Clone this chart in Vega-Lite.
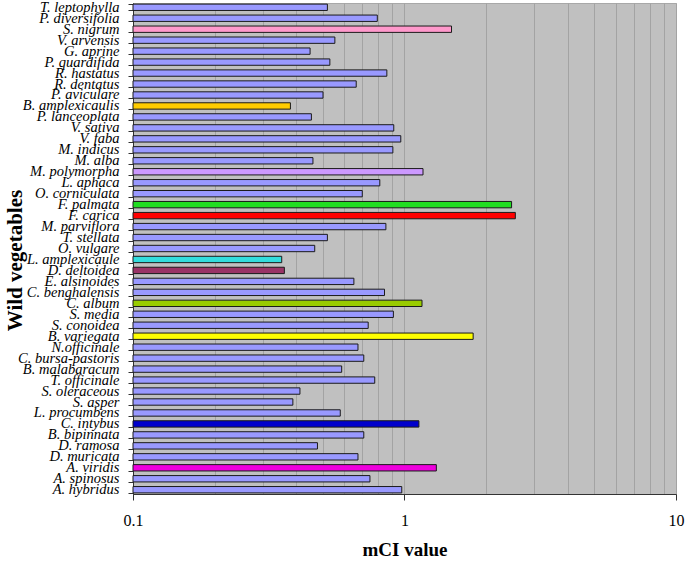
{
  "$schema": "https://vega.github.io/schema/vega-lite/v6.json",
  "width": 543,
  "height": 491,
  "autosize": "none",
  "padding": {"left": 133, "top": 3, "right": 9, "bottom": 71},
  "background": "white",
  "config": {
    "view": {"fill": "#c0c0c0", "stroke": "#a8a8a8"},
    "font": "Liberation Serif"
  },
  "data": {
    "values": [
      {"species": "T. leptophylla", "mci": 0.52},
      {"species": "P. diversifolia", "mci": 0.794},
      {"species": "S. nigrum", "mci": 1.49},
      {"species": "V. arvensis", "mci": 0.554},
      {"species": "G. aprine", "mci": 0.449},
      {"species": "P. quardifida", "mci": 0.531},
      {"species": "R. hastatus", "mci": 0.861},
      {"species": "R. dentatus", "mci": 0.664},
      {"species": "P. aviculare", "mci": 0.501},
      {"species": "B. amplexicaulis", "mci": 0.38},
      {"species": "P. lanceoplata", "mci": 0.454},
      {"species": "V. sativa", "mci": 0.913},
      {"species": "V. faba", "mci": 0.969},
      {"species": "M. indicus", "mci": 0.906},
      {"species": "M. alba", "mci": 0.46},
      {"species": "M. polymorpha", "mci": 1.17},
      {"species": "L. aphaca", "mci": 0.811},
      {"species": "O. corniculata", "mci": 0.699},
      {"species": "F. palmata", "mci": 2.48},
      {"species": "F. carica", "mci": 2.56},
      {"species": "M. parviflora", "mci": 0.854},
      {"species": "T. stellata", "mci": 0.52},
      {"species": "O. vulgare", "mci": 0.467},
      {"species": "L. amplexicaule", "mci": 0.353},
      {"species": "D. deltoidea", "mci": 0.361},
      {"species": "E. alsinoides", "mci": 0.651},
      {"species": "C. benghalensis", "mci": 0.844},
      {"species": "C. album", "mci": 1.16},
      {"species": "S. media", "mci": 0.91},
      {"species": "S. conoidea", "mci": 0.735},
      {"species": "B. variegata", "mci": 1.79},
      {"species": "N.officinale", "mci": 0.674},
      {"species": "C. bursa-pastoris", "mci": 0.708},
      {"species": "B. malabaracum", "mci": 0.587},
      {"species": "T. officinale", "mci": 0.777},
      {"species": "S. oleraceous", "mci": 0.412},
      {"species": "S. asper", "mci": 0.388},
      {"species": "L. procumbens", "mci": 0.58},
      {"species": "C. intybus", "mci": 1.13},
      {"species": "B. bipinnata", "mci": 0.708},
      {"species": "D. ramosa", "mci": 0.478},
      {"species": "D. muricata", "mci": 0.674},
      {"species": "A. viridis", "mci": 1.31},
      {"species": "A. spinosus", "mci": 0.746},
      {"species": "A. hybridus", "mci": 0.977}
    ]
  },
  "mark": {"type": "bar", "stroke": "#1a1a1a", "strokeWidth": 1},
  "encoding": {
    "y": {
      "field": "species",
      "type": "nominal",
      "sort": null,
      "scale": {"paddingInner": 0.42, "paddingOuter": 0.1},
      "axis": {
        "title": "Wild vegetables",
        "titleFont": "Liberation Serif",
        "titleFontSize": 21,
        "titleFontWeight": "bold",
        "titleColor": "black",
        "titleAngle": 270,
        "titleX": -118,
        "titleY": 257,
        "titleAlign": "center",
        "titleBaseline": "middle",
        "labelFont": "Liberation Serif",
        "labelFontStyle": "italic",
        "labelFontSize": 14.5,
        "labelColor": "black",
        "labelOverlap": false,
        "labelBound": false,
        "labelPadding": 9,
        "labelLimit": 300,
        "tickBand": "extent",
        "tickSize": 5,
        "tickColor": "#333333",
        "domainColor": "#333333",
        "grid": false
      }
    },
    "x": {
      "field": "mci",
      "type": "quantitative",
      "scale": {"type": "log", "domain": [0.1, 10], "nice": false},
      "axis": {
        "title": "mCI value",
        "titleFont": "Liberation Serif",
        "titleFontSize": 19,
        "titleFontWeight": "bold",
        "titleColor": "black",
        "titlePadding": 12,
        "values": [0.1, 0.2, 0.3, 0.4, 0.5, 0.6, 0.7, 0.8, 0.9, 1, 2, 3, 4, 5, 6, 7, 8, 9, 10],
        "labelExpr": "datum.value < 0.15 ? '0.1' : (datum.value == 1 ? '1' : (datum.value == 10 ? '10' : ''))",
        "labelFont": "Liberation Serif",
        "labelFontSize": 16,
        "labelColor": "black",
        "labelPadding": 12,
        "labelFlush": false,
        "labelOverlap": false,
        "tickSize": 6,
        "tickColor": {"condition": {"test": "datum.value < 0.15 || datum.value == 1 || datum.value == 10", "value": "#333333"}, "value": "transparent"},
        "grid": true,
        "gridColor": "#a3a3a3",
        "gridWidth": 1,
        "domainColor": "#333333"
      }
    },
    "x2": {"datum": 0.1},
    "color": {
      "field": "species",
      "type": "nominal",
      "legend": null,
      "scale": {
        "domain": ["T. leptophylla", "P. diversifolia", "S. nigrum", "V. arvensis", "G. aprine", "P. quardifida", "R. hastatus", "R. dentatus", "P. aviculare", "B. amplexicaulis", "P. lanceoplata", "V. sativa", "V. faba", "M. indicus", "M. alba", "M. polymorpha", "L. aphaca", "O. corniculata", "F. palmata", "F. carica", "M. parviflora", "T. stellata", "O. vulgare", "L. amplexicaule", "D. deltoidea", "E. alsinoides", "C. benghalensis", "C. album", "S. media", "S. conoidea", "B. variegata", "N.officinale", "C. bursa-pastoris", "B. malabaracum", "T. officinale", "S. oleraceous", "S. asper", "L. procumbens", "C. intybus", "B. bipinnata", "D. ramosa", "D. muricata", "A. viridis", "A. spinosus", "A. hybridus"],
        "range": ["#9999ff", "#9999ff", "#ff99cc", "#9999ff", "#9999ff", "#9999ff", "#9999ff", "#9999ff", "#9999ff", "#ffcc00", "#9999ff", "#9999ff", "#9999ff", "#9999ff", "#9999ff", "#cc99ff", "#9999ff", "#9999ff", "#22dd22", "#ff0000", "#9999ff", "#9999ff", "#9999ff", "#33dddd", "#993366", "#9999ff", "#9999ff", "#99cc00", "#9999ff", "#9999ff", "#ffff00", "#9999ff", "#9999ff", "#9999ff", "#9999ff", "#9999ff", "#9999ff", "#9999ff", "#0000cc", "#9999ff", "#9999ff", "#9999ff", "#ee00dd", "#9999ff", "#9999ff"]
      }
    }
  }
}
